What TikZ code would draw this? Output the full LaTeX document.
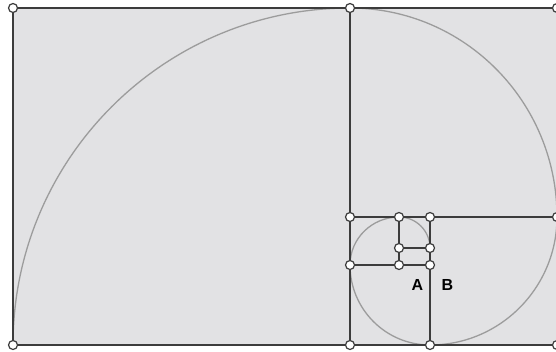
\documentclass[tikz,border=0pt]{standalone}
\usepackage{fontspec}
\setmainfont{Liberation Sans}
\begin{document}
\begin{tikzpicture}[x=1pt,y=-1pt,
  edge/.style={draw=lineC,line width=1.9pt},
  thinedge/.style={draw=lineC,line width=1.3pt},
  spiral/.style={draw=spiralC,line width=1.3pt},
  dot/.style={circle,draw=lineC,fill=white,line width=1.2pt,minimum size=9pt,inner sep=0pt},
  lbl/.style={font=\bfseries\fontsize{16}{18}\selectfont,text=black,inner sep=0pt}]
\definecolor{lineC}{HTML}{3C3C3C}
\definecolor{spiralC}{HTML}{9C9C9C}
\definecolor{fillC}{HTML}{E2E2E4}
\useasboundingbox (0,0) rectangle (556,351);
\clip (0,0) rectangle (556,351);
\fill[fillC] (13,8) rectangle (557,345);
% points
\coordinate (p1) at (13,8);
\coordinate (p2) at (350,8);
\coordinate (p3) at (557,8);
\coordinate (p4) at (350,217);
\coordinate (p5) at (399,217);
\coordinate (p6) at (430,217);
\coordinate (p7) at (557,217);
\coordinate (p8) at (399,248);
\coordinate (p9) at (430,248);
\coordinate (p10) at (350,265);
\coordinate (p11) at (399,265);
\coordinate (p12) at (430,265);
\coordinate (p13) at (13,345);
\coordinate (p14) at (350,345);
\coordinate (p15) at (430,345);
\coordinate (p16) at (557,345);
% spiral
\draw[spiral] (p13) arc[start angle=180,end angle=270,radius=337]
  arc[start angle=270,end angle=360,x radius=207,y radius=209]
  arc[start angle=0,end angle=90,x radius=127,y radius=128]
  arc[start angle=90,end angle=180,radius=80]
  arc[start angle=180,end angle=270,x radius=49,y radius=48]
  arc[start angle=270,end angle=360,radius=31];
% lines
\draw[edge] (p1) -- (p3) -- (p16) -- (p13) -- cycle;
\draw[edge] (p2) -- (p14);
\draw[edge] (p4) -- (p7);
\draw[edge] (p6) -- (p15);
\draw[edge] (p10) -- (p12);
\draw[edge] (p5) -- (p11);
\draw[thinedge] (p8) -- (p9);
% dots
\foreach \p in {p1,p2,p3,p4,p5,p6,p7,p8,p9,p10,p11,p12,p13,p14,p15,p16}
  \node[dot] (d\p) at (\p) {};
% labels
\node[lbl] (A) at (417.5,284.5) {A};
\node[lbl] (B) at (447.5,284.5) {B};
\end{tikzpicture}
\end{document}
